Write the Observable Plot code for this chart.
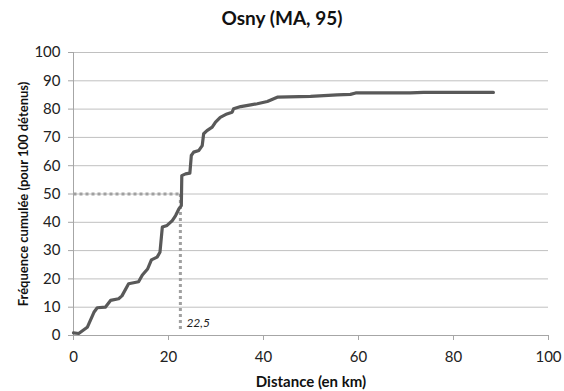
<!DOCTYPE html>
<html>
<head>
<meta charset="utf-8">
<script src="https://cdn.jsdelivr.net/npm/d3@7"></script>
<script src="https://cdn.jsdelivr.net/npm/@observablehq/plot@0.6"></script>
<style>
  body { margin: 0; background: #fff; font-family: Lato, "Open Sans", sans-serif; }
  #title { width: 564px; height: 32px; line-height: 36px; text-align: center; font-weight: bold; font-size: 19px; color: #111; }
</style>
</head>
<body>
<div id="title">Osny (MA, 95)</div>
<div id="chart"></div>
<script>
const distance = [0, 1.1, 2.9, 4.3, 5.0, 6.7, 7.8, 9.5, 10.2, 11.6, 13.7, 14.5, 15.6, 16.4, 17.6, 18.2, 18.7, 19.7, 20.8, 21.5, 22.2, 22.7, 22.8, 23.6, 24.5, 24.8, 25.3, 26.4, 27.1, 27.4, 28.1, 29.2, 29.9, 30.9, 32.3, 33.4, 33.7, 35.2, 37.3, 38.7, 40.8, 42.9, 49.9, 55.5, 58.3, 59.4, 70.9, 73.7, 88.4];
const frequence = [0.9, 0.7, 2.9, 8.2, 9.8, 10.0, 12.4, 13.0, 14.0, 18.3, 19.0, 21.4, 23.5, 26.7, 27.7, 29.4, 38.3, 38.9, 40.6, 42.4, 44.8, 45.9, 56.5, 57.1, 57.4, 63.6, 64.8, 65.4, 67.1, 71.3, 72.4, 73.6, 75.4, 77.1, 78.3, 78.9, 80.1, 80.9, 81.5, 81.9, 82.7, 84.2, 84.5, 85.0, 85.2, 85.7, 85.7, 85.9, 85.9];
const medianX = 22.5;
const medianY = 50;
const medianLabel = "22,5";
const xTicks = [0, 20, 40, 60, 80, 100];
const yTicks = [0, 10, 20, 30, 40, 50, 60, 70, 80, 90, 100];
const xLabel = "Distance (en km)";
const yLabel = "Fréquence cumulée (pour 100 détenus)";

const data = distance.map((d, i) => ({x: d, y: frequence[i]}));
const font = "Lato, 'Open Sans', sans-serif";

const chart = Plot.plot({
  width: 564,
  height: 359,
  marginTop: 20,
  marginBottom: 56,
  marginLeft: 73,
  marginRight: 16,
  x: {domain: [0, 100]},
  y: {domain: [0, 100]},
  style: {fontFamily: font, fontSize: "15px", color: "#222", background: "#fff"},
  marks: [
    Plot.ruleY(yTicks.filter(d => d > 0), {stroke: "#c0c0c0", strokeWidth: 1, strokeOpacity: 1}),
    Plot.ruleY([0], {stroke: "#a6a6a6", strokeWidth: 1, strokeOpacity: 1}),
    Plot.ruleX([0], {stroke: "#a6a6a6", strokeWidth: 1, strokeOpacity: 1}),
    Plot.axisY({ticks: yTicks, tickSize: 5, tickPadding: 8, stroke: "#a6a6a6", strokeOpacity: 1, label: null, fontSize: 15}),
    Plot.axisX({ticks: xTicks, tickSize: 5, tickPadding: 11, stroke: "#a6a6a6", strokeOpacity: 1, label: null, fontSize: 15}),
    Plot.line([{x: 0, y: medianY}, {x: medianX, y: medianY}], {x: "x", y: "y", stroke: "#a0a0a0", strokeWidth: 3, strokeDasharray: "3,3", strokeLinecap: "butt"}),
    Plot.line([{x: medianX, y: medianY}, {x: medianX, y: 1.8}], {x: "x", y: "y", stroke: "#a0a0a0", strokeWidth: 3, strokeDasharray: "3,3", strokeLinecap: "butt"}),
    Plot.line(data, {x: "x", y: "y", stroke: "#595959", strokeWidth: 3.2, strokeLinejoin: "round", strokeLinecap: "round"}),
    Plot.text([medianLabel], {x: medianX, y: 4.5, dx: 6, textAnchor: "start", fontStyle: "italic", fontSize: 12, fill: "#222"}),
    Plot.text([xLabel], {frameAnchor: "bottom", dy: 47, textAnchor: "middle", lineAnchor: "middle", fontWeight: "bold", fontSize: 15, fill: "#111"}),
    Plot.text([yLabel], {frameAnchor: "left", dx: -50, rotate: -90, textAnchor: "middle", lineAnchor: "middle", fontWeight: "bold", fontSize: 13, fill: "#111"})
  ]
});
document.getElementById("chart").appendChild(chart);
</script>
</body>
</html>
